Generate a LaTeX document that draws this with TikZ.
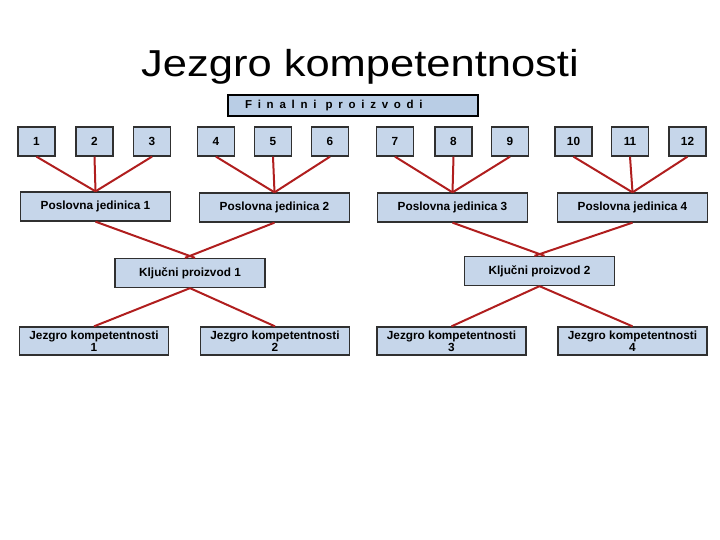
\documentclass[tikz,border=0pt]{standalone}
\usepackage{fontspec}
\setmainfont{Liberation Sans}
\newfontfamily\titlefont[FakeStretch=1.16]{Liberation Sans}
\newfontfamily\spacedfont[LetterSpace=50]{Liberation Sans}
\usepackage{tikz}
\usetikzlibrary{positioning,calc}
\definecolor{boxFill}{HTML}{C6D6EA}
\definecolor{headFill}{HTML}{B9CDE5}
\definecolor{boxBorder}{HTML}{303030}
\definecolor{linkRed}{HTML}{B01E1E}

\begin{document}
\begin{tikzpicture}[
  x=1pt, y=-1pt,
  unit/.style={draw=boxBorder, fill=boxFill, line width=1.3pt, inner sep=0pt,
    minimum height=29pt, align=center,
    font=\bfseries\fontsize{11.8}{11.7}\selectfont},
  numbox/.style={unit, minimum width=37pt},
  bizbox/.style={unit, minimum width=150pt},
  corebox/.style={unit, minimum width=149pt, minimum height=28pt},
  headbox/.style={draw=black, fill=headFill, line width=2.6pt, inner ysep=0pt,
    inner xsep=17pt, minimum height=21pt, text width=216pt, align=left,
    font=\spacedfont\bfseries\fontsize{11.5}{12}\selectfont},
  link/.style={draw=linkRed, line width=2pt},
]
\useasboundingbox (0,0) rectangle (720,540);

% Title and top bar
\node[font=\titlefont\fontsize{37.5}{40}\selectfont, anchor=base, inner sep=0pt]
  (title) at (360,77) {Jezgro kompetentnosti};
\node[headbox] (fin) at (353,105.5) {Finalni\hspace{9pt}proizvodi};

% Final products 1--12
\node[numbox] (n1)  at (36.5,141.5)  {1};
\node[numbox] (n2)  at (94.5,141.5)  {2};
\node[numbox] (n3)  at (152,141.5)   {3};
\node[numbox] (n4)  at (216,141.5)   {4};
\node[numbox] (n5)  at (273,141.5)   {5};
\node[numbox] (n6)  at (330,141.5)   {6};
\node[numbox] (n7)  at (395,141.5)   {7};
\node[numbox] (n8)  at (453.5,141.5) {8};
\node[numbox] (n9)  at (510,141.5)   {9};
\node[numbox] (n10) at (573.5,141.5) {10};
\node[numbox] (n11) at (630,141.5)   {11};
\node[numbox] (n12) at (687.5,141.5) {12};

% Business units
\node[bizbox] (pj1) at (95.5,206.5)  {Poslovna jedinica 1};
\node[bizbox] (pj2) at (274.5,207.5) {Poslovna jedinica 2};
\node[bizbox] (pj3) at (452.5,207.5) {Poslovna jedinica 3};
\node[bizbox] (pj4) at (632.5,207.5) {Poslovna jedinica 4};

% Key products
\node[bizbox] (kp1) at (190,273)   {Ključni proizvod 1};
\node[bizbox] (kp2) at (539.5,271) {Ključni proizvod 2};

% Core competences
\node[corebox] (jk1) at (94,341)    {Jezgro kompetentnosti\\1};
\node[corebox] (jk2) at (275,341)   {Jezgro kompetentnosti\\2};
\node[corebox] (jk3) at (451.5,341) {Jezgro kompetentnosti\\3};
\node[corebox] (jk4) at (632.5,341) {Jezgro kompetentnosti\\4};

% Products -> business units
\draw[link] (n1.south) -- (pj1.north);
\draw[link] (n2.south) -- (pj1.north);
\draw[link] (n3.south) -- (pj1.north);
\draw[link] (n4.south) -- (pj2.north);
\draw[link] (n5.south) -- (pj2.north);
\draw[link] (n6.south) -- (pj2.north);
\draw[link] (n7.south) -- (pj3.north);
\draw[link] (n8.south) -- (pj3.north);
\draw[link] (n9.south) -- (pj3.north);
\draw[link] (n10.south) -- (pj4.north);
\draw[link] (n11.south) -- (pj4.north);
\draw[link] (n12.south) -- (pj4.north);

% Business units -> key products (crossing just above the box)
\draw[link] (pj1.south) -- ([xshift=5pt]kp1.north);
\draw[link] (pj2.south) -- ([xshift=-5pt]kp1.north);
\draw[link] (pj3.south) -- ([xshift=5pt]kp2.north);
\draw[link] (pj4.south) -- ([xshift=-5pt]kp2.north);

% Key products -> core competences
\draw[link] (kp1.south) -- (jk1.north);
\draw[link] (kp1.south) -- (jk2.north);
\draw[link] (kp2.south) -- (jk3.north);
\draw[link] (kp2.south) -- (jk4.north);

\end{tikzpicture}
\end{document}
